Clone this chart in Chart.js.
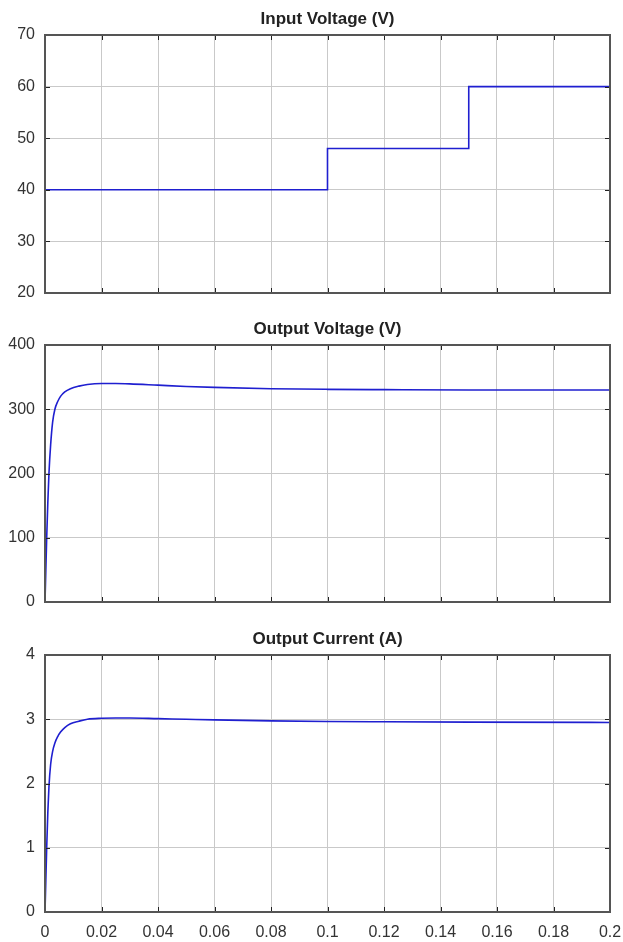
<!DOCTYPE html>
<html>
<head>
<meta charset="utf-8">
<script src="https://cdn.jsdelivr.net/npm/chart.js@4"></script>
<style>
  html, body { margin: 0; padding: 0; background: #fff; }
  #wrap { position: relative; width: 623px; height: 942px; overflow: hidden; }
  canvas { position: absolute; left: 0; }
</style>
</head>
<body>
<div id="wrap">
  <canvas id="vinChart"  width="623" height="305" style="top:0px"></canvas>
  <canvas id="voutChart" width="623" height="310" style="top:305px"></canvas>
  <canvas id="ioutChart" width="623" height="327" style="top:615px"></canvas>
</div>
<script>
/* Simulation traces */

// input voltage steps
const tIn  = [0, 0.1, 0.15, 0.2];
const vIn  = [40, 48, 60, 60];

// output voltage / current share one time base
const tOut = [0, 0.0003, 0.0006, 0.001, 0.0014, 0.002, 0.0027, 0.0035, 0.0045, 0.0055,
              0.007, 0.009, 0.012, 0.015, 0.02, 0.025, 0.03, 0.04, 0.05, 0.06,
              0.08, 0.1, 0.12, 0.15, 0.2];
const vOut = [0, 50, 100, 155, 200, 245, 280, 300, 312, 320,
              327, 332, 336, 338.5, 340, 340, 339.5, 337.5, 335.5, 334,
              332, 331, 330.5, 330, 330];
const iOut = [0, 0.5, 1.0, 1.55, 1.95, 2.3, 2.5, 2.63, 2.73, 2.8,
              2.87, 2.93, 2.97, 3.0, 3.015, 3.02, 3.02, 3.01, 3.0, 2.99,
              2.975, 2.965, 2.96, 2.955, 2.95];

const xTickLabels = ['0', '0.02', '0.04', '0.06', '0.08', '0.1', '0.12', '0.14', '0.16', '0.18', '0.2'];

const LINE_COLOR = '#1f1fd0';
const GRID_COLOR = '#c9c9c9';
const TEXT_COLOR = '#333333';
const FONT = "'Liberation Sans', Arial, sans-serif";

/* MATLAB-ish frame: dark box, inward tick marks, bold title above */
const framePlugin = {
  id: 'frame',
  afterDraw(chart, args, opts) {
    const { ctx, chartArea: a, scales } = chart;
    ctx.save();
    ctx.strokeStyle = '#222';
    ctx.lineWidth = 1;
    ctx.beginPath();
    scales.x.ticks.forEach(t => {
      const x = Math.round(scales.x.getPixelForValue(t.value)) + 0.5;
      ctx.moveTo(x, a.bottom); ctx.lineTo(x, a.bottom - 5);
      ctx.moveTo(x, a.top);    ctx.lineTo(x, a.top + 5);
    });
    scales.y.ticks.forEach(t => {
      const y = Math.round(scales.y.getPixelForValue(t.value)) + 0.5;
      ctx.moveTo(a.left, y);  ctx.lineTo(a.left + 5, y);
      ctx.moveTo(a.right, y); ctx.lineTo(a.right - 5, y);
    });
    ctx.stroke();

    ctx.strokeStyle = '#555';
    ctx.lineWidth = 2;
    ctx.strokeRect(a.left, a.top, a.right - a.left, a.bottom - a.top);

    ctx.fillStyle = '#222';
    ctx.font = 'bold 17px ' + FONT;
    ctx.textAlign = 'center';
    ctx.textBaseline = 'alphabetic';
    ctx.fillText(opts.text, (a.left + a.right) / 2, a.top - 11);
    ctx.restore();
  }
};

function makeChart(id, cfg) {
  const showX = !!cfg.showX;
  return new Chart(document.getElementById(id), {
    type: 'line',
    data: {
      datasets: [{
        data: cfg.xs.map((x, i) => ({ x: x, y: cfg.ys[i] })),
        borderColor: LINE_COLOR,
        borderWidth: 1.6,
        pointRadius: 0,
        stepped: cfg.stepped || false,
        cubicInterpolationMode: 'monotone',
        fill: false,
      }],
    },
    options: {
      responsive: false,
      animation: false,
      layout: { padding: { top: cfg.padTop, bottom: cfg.padBottom, left: 0, right: 13 } },
      plugins: {
        legend: { display: false },
        tooltip: { enabled: false },
        frame: { text: cfg.title },
      },
      scales: {
        x: {
          type: 'linear',
          min: 0, max: 0.2,
          afterBuildTicks: s => { s.ticks = xTickLabels.map((_, i) => ({ value: i * 0.02 })); },
          afterFit: s => {
            s.height = showX ? 30 : 0;
            s.paddingLeft = 0;
            s.paddingRight = 0;   // let "0.2" hang past the right edge
          },
          ticks: {
            display: showX,
            color: TEXT_COLOR,
            font: { family: FONT, size: 16 },
            padding: 11,
            maxRotation: 0,
            autoSkip: false,
            callback: (v, i) => xTickLabels[i],
          },
          grid: { color: GRID_COLOR, drawTicks: false },
          border: { display: false },
        },
        y: {
          min: cfg.yMin, max: cfg.yMax,
          afterFit: s => {
            s.width = 45;
            s.paddingTop = 0;
            s.paddingBottom = 0;
          },
          ticks: {
            stepSize: cfg.yStep,
            color: TEXT_COLOR,
            font: { family: FONT, size: 16 },
            padding: 10,
          },
          grid: { color: GRID_COLOR, drawTicks: false },
          border: { display: false },
        },
      },
    },
    plugins: [framePlugin],
  });
}

makeChart('vinChart', {
  title: 'Input Voltage (V)', xs: tIn, ys: vIn, stepped: true,
  yMin: 20, yMax: 70, yStep: 10, padTop: 35, padBottom: 12,
});
makeChart('voutChart', {
  title: 'Output Voltage (V)', xs: tOut, ys: vOut,
  yMin: 0, yMax: 400, yStep: 100, padTop: 40, padBottom: 13,
});
makeChart('ioutChart', {
  title: 'Output Current (A)', xs: tOut, ys: iOut, showX: true,
  yMin: 0, yMax: 4, yStep: 1, padTop: 40, padBottom: 0,
});
</script>
</body>
</html>
